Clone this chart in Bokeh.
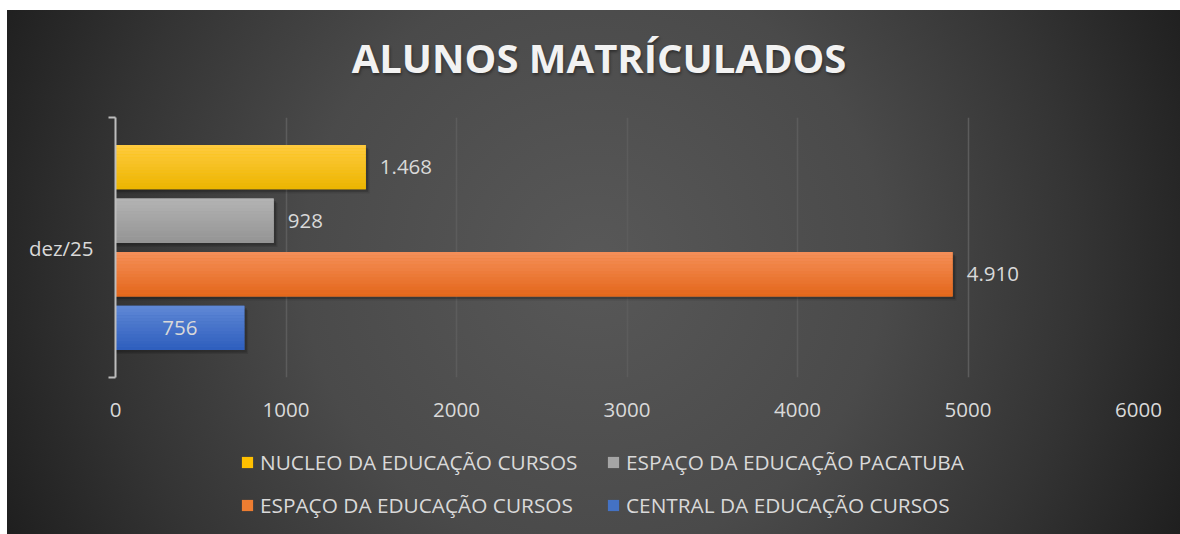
from bokeh.plotting import figure
from bokeh.layouts import column
from bokeh.models import Range1d, FixedTicker, Legend, LegendItem, ColumnDataSource, Div
from bokeh.core.properties import value
from bokeh.embed import file_html
from bokeh.resources import INLINE

# ---- data ----
category = ["dez/25"]
series = ["NUCLEO DA EDUCAÇÃO CURSOS", "ESPAÇO DA EDUCAÇÃO PACATUBA",
          "ESPAÇO DA EDUCAÇÃO CURSOS", "CENTRAL DA EDUCAÇÃO CURSOS"]
values = [1468, 928, 4910, 756]
x_ticks = [0, 1000, 2000, 3000, 4000, 5000, 6000]
title_text = "ALUNOS MATRÍCULADOS"

# ---- style ----
FONT = "Open Sans"
TXT = "#d9d9d9"
W = 1173
mid_colors = ["#ffc000", "#a5a5a5", "#ed7d31", "#4472c4"]
top_colors = ["#ffcb40", "#b4b4b4", "#f5905a", "#6089d6"]
bot_colors = ["#ebb500", "#939393", "#e3661a", "#2d5dbd"]
label_inside = [False, False, False, True]

n = len(series)
slot = 0.206
bar_h = 0.17
ypos = [0.5 + (1.5 - i) * slot for i in range(n)]

# ---- title ----
title = Div(text=f'<div style="font-family:\'{FONT}\';font-size:40px;font-weight:bold;'
                 f'color:#f2f2f2;text-align:center;line-height:96px;width:{W}px;'
                 f'padding-left:11px;box-sizing:border-box;'
                 f'text-shadow:1px 2px 3px rgba(0,0,0,0.4);">{title_text}</div>',
            width=W, height=97, margin=0)

# ---- chart ----
p = figure(width=W, height=323, output_backend="svg", toolbar_location=None,
           x_range=Range1d(0, 6000), y_range=Range1d(0, 1),
           min_border_left=108, min_border_right=42, min_border_top=10,
           min_border_bottom=53, margin=0)
p.background_fill_alpha = 0
p.border_fill_alpha = 0
p.outline_line_color = None

p.xaxis.ticker = FixedTicker(ticks=x_ticks)
p.xaxis.axis_line_color = None
p.xaxis.major_tick_line_color = None
p.xaxis.minor_tick_line_color = None
p.xaxis.major_label_text_font = FONT
p.xaxis.major_label_text_font_size = "20.5px"
p.xaxis.major_label_text_color = TXT
p.xaxis.major_label_standoff = 19

p.yaxis.ticker = FixedTicker(ticks=[0.5], minor_ticks=[0, 1])
p.yaxis.major_label_overrides = {0.5: category[0]}
p.yaxis.axis_line_color = "#bdbdbd"
p.yaxis.axis_line_width = 2
p.yaxis.major_tick_line_color = None
p.yaxis.minor_tick_line_color = "#bdbdbd"
p.yaxis.minor_tick_line_width = 2
p.yaxis.minor_tick_out = 7
p.yaxis.minor_tick_in = 0
p.yaxis.major_label_text_font = FONT
p.yaxis.major_label_text_font_size = "20.5px"
p.yaxis.major_label_text_color = TXT
p.yaxis.major_label_standoff = 15

p.xgrid.ticker = FixedTicker(ticks=x_ticks)
p.xgrid.grid_line_color = "#5c5c5c"
p.xgrid.grid_line_width = 1.5
p.ygrid.grid_line_color = None

# soft shadows
for dx, dy, al in [(22, 0.016, 0.10), (14, 0.010, 0.18)]:
    shadow = ColumnDataSource(dict(y=[y - dy for y in ypos],
                                   right=[v + dx for v in values]))
    p.hbar(y="y", left=0, right="right", height=bar_h, source=shadow,
           fill_color="black", fill_alpha=al, line_color=None)

# main bars
for i in range(n):
    p.hbar(y=[ypos[i]], left=0, right=[values[i]], height=bar_h,
           fill_color=mid_colors[i], line_color=None)

# vertical gradient stripes on the bars
def hx(c):
    return [int(c[k:k + 2], 16) for k in (1, 3, 5)]

N = 14
sy, sr, sc = [], [], []
for i in range(n):
    a, b = hx(top_colors[i]), hx(bot_colors[i])
    for k in range(N):
        t = (k + 0.5) / N
        col = "#%02x%02x%02x" % tuple(round(a[j] + (b[j] - a[j]) * t) for j in range(3))
        sy.append(ypos[i] + bar_h / 2 - (k + 0.5) * bar_h / N)
        sr.append(values[i])
        sc.append(col)
p.hbar(y=sy, left=0, right=sr, height=bar_h / N * 1.04, fill_color=sc, line_color=None)

# data labels
lab = [f"{v:,}".replace(",", ".") for v in values]
lx = [v / 2 if ins else v for v, ins in zip(values, label_inside)]
lo = [0 if ins else 14 for ins in label_inside]
la = ["center" if ins else "left" for ins in label_inside]
src = ColumnDataSource(dict(x=lx, y=ypos, t=lab, o=lo, a=la))
p.text(x="x", y="y", text="t", x_offset="o", text_align="a", text_baseline="middle",
       source=src, text_font=value(FONT), text_font_size="20.5px", text_color=TXT)

# ---- legend strip ----
p2 = figure(width=W, height=104, output_backend="svg", toolbar_location=None,
            x_axis_type=None, y_axis_type=None, x_range=(0, 1), y_range=(0, 1),
            min_border=0, margin=0)
p2.background_fill_alpha = 0
p2.border_fill_alpha = 0
p2.outline_line_color = None
p2.grid.visible = False

# legend swatches (kept outside the visible range of the strip)
swatches = [p2.hbar(y=[-5], right=[-5], left=-6, height=0.1,
                    fill_color=mid_colors[i], line_color=None) for i in range(n)]
for cols, xloc in [([0, 2], 125), ([1, 3], 491)]:
    lg = Legend(items=[LegendItem(label=series[i], renderers=[swatches[i]]) for i in cols],
                location=(xloc, 15), orientation="vertical", margin=0, padding=0,
                glyph_width=14, glyph_height=14, label_standoff=6,
                label_height=20, spacing=15,
                label_text_font=FONT, label_text_font_size="20.8px",
                label_text_color=TXT, background_fill_alpha=0,
                border_line_color=None)
    p2.add_layout(lg, "center")

layout = column(title, p, p2, spacing=0,
                styles={"margin-left": "7px", "margin-top": "10px",
                        "background": "radial-gradient(circle farthest-corner at 50% 48%, "
                                      "#585858 0%, #4a4a4a 45%, #343434 75%, #1f1f1f 100%)"})

open("out.html", "w").write(file_html(layout, INLINE))
